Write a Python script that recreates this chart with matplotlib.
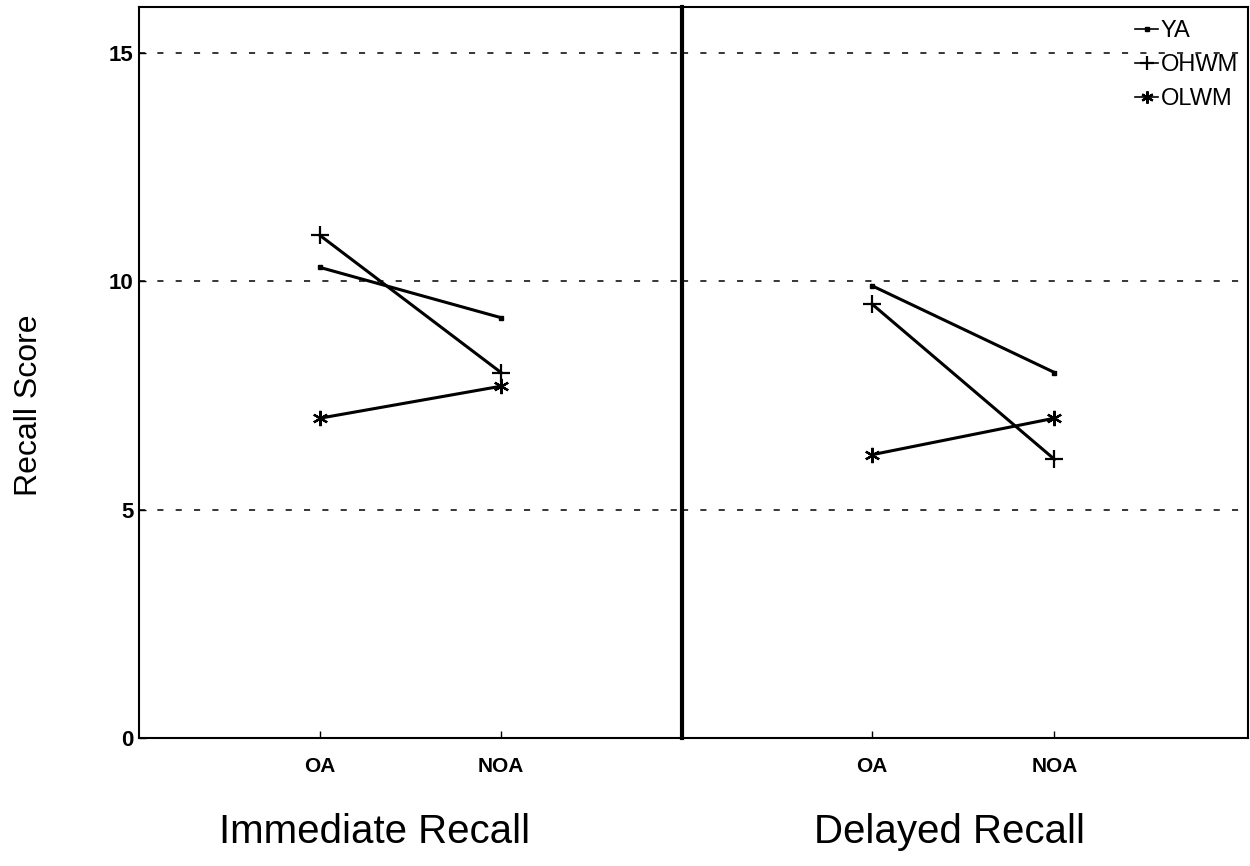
import matplotlib
matplotlib.use('Agg')
import matplotlib.pyplot as plt

# Recall scores
conditions = ['OA', 'NOA']
groups = ['YA', 'OHWM', 'OLWM']

immediate_ya = [10.3, 9.2]
immediate_ohwm = [11.0, 8.0]
immediate_olwm = [7.0, 7.7]

delayed_ya = [9.9, 8.0]
delayed_ohwm = [9.5, 6.1]
delayed_olwm = [6.2, 7.0]

y_ticks = [0, 5, 10, 15]
grid_levels = [5, 10, 15]

plt.rcParams['font.family'] = ['Liberation Sans', 'DejaVu Sans']

# marker style per group: small dot, plus, asterisk
markers = {'YA': dict(marker='s', markersize=3.5),
           'OHWM': dict(marker='+', markersize=13, markeredgewidth=1.6),
           'OLWM': dict(marker=(6, 2, 0), markersize=11, markeredgewidth=1.6)}


def draw_panel(ax, series, xlim):
    x = [1, 2]
    for name, values in zip(groups, series):
        ax.plot(x, values, color='black', linewidth=2.2, label=name, **markers[name])
    for level in grid_levels:
        ax.axhline(level, color='black', linewidth=1.1, dashes=(4, 8), zorder=0)
    ax.set_xlim(*xlim)
    ax.set_ylim(0, 16)
    ax.set_xticks(x)
    ax.set_xticklabels(conditions, fontsize=15, fontweight='bold')
    ax.tick_params(axis='both', direction='in', length=5, width=1)
    ax.tick_params(axis='x', pad=14)
    for spine in ax.spines.values():
        spine.set_linewidth(1.5)


fig = plt.figure(figsize=(12.5, 8.66), dpi=100)
ax1 = fig.add_axes([139 / 1250, 1 - 738 / 866, 543 / 1250, 731 / 866])
ax2 = fig.add_axes([682 / 1250, 1 - 738 / 866, 566 / 1250, 731 / 866])

draw_panel(ax1, [immediate_ya, immediate_ohwm, immediate_olwm], (0, 3))
draw_panel(ax2, [delayed_ya, delayed_ohwm, delayed_olwm], (-0.04, 3.06))

ax1.set_yticks(y_ticks)
ax1.set_yticklabels([str(t) for t in y_ticks], fontsize=16, fontweight='bold')
ax1.tick_params(axis='y', pad=4)
ax1.set_ylabel('Recall Score', fontsize=23)
ax1.yaxis.set_label_coords(-0.175, 0.455)

ax2.set_yticks(y_ticks)
ax2.tick_params(axis='y', left=False, labelleft=False)
ax2.spines['left'].set_linewidth(3)

leg = ax2.legend(loc='upper left', bbox_to_anchor=(0.80, 0.982), frameon=False,
                 fontsize=17, handlelength=1.0, handletextpad=0.1,
                 labelspacing=0.5, borderpad=0, borderaxespad=0, markerscale=0.8)
for line in leg.get_lines():
    line.set_linewidth(1.2)

# panel captions under each half
fig.text(375 / 1250, 1 - 832 / 866, 'Immediate Recall', fontsize=29, ha='center', va='center')
fig.text(950 / 1250, 1 - 832 / 866, 'Delayed Recall', fontsize=29, ha='center', va='center')

plt.savefig('out.png', dpi=100)
